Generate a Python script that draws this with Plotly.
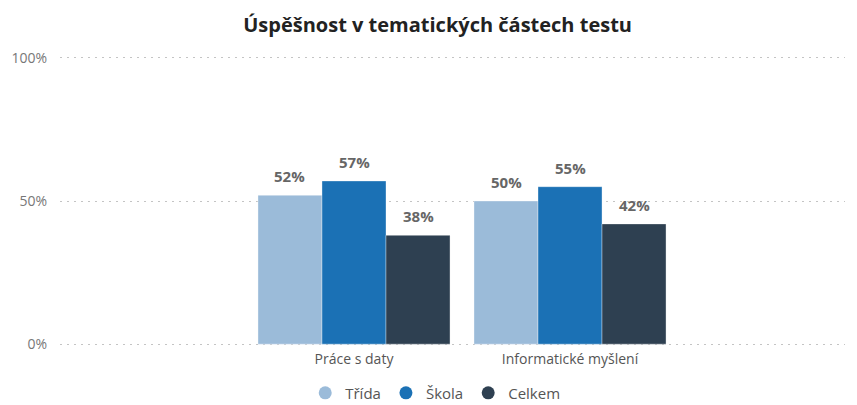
import plotly.graph_objects as go

categories = ["Práce s daty", "Informatické myšlení"]
series_names = ["Třída", "Škola", "Celkem"]
trida = [52, 50]
skola = [57, 55]
celkem = [38, 42]
y_ticks = [0, 50, 100]
y_tick_labels = ["0%", "50%", "100%"]

colors = {"Třída": "#9BBBD9", "Škola": "#1B71B5", "Celkem": "#2E4051"}
values = {"Třída": trida, "Škola": skola, "Celkem": celkem}

bar_w = 0.889 / 3
offsets = {"Třída": -bar_w, "Škola": 0, "Celkem": bar_w}

fig = go.Figure()
for name in series_names:
    fig.add_trace(go.Bar(
        x=categories, y=values[name], name=name,
        marker=dict(color=colors[name], line=dict(color="rgba(255,255,255,0.35)", width=1)),
        showlegend=False,
    ))
    # legend entry with a round marker
    fig.add_trace(go.Scatter(
        x=[None], y=[None], mode="markers", name=name,
        marker=dict(color=colors[name], size=13, symbol="circle"),
    ))
    # data labels above bars
    for i, v in enumerate(values[name]):
        fig.add_annotation(x=i + offsets[name], y=v, text=f"<b>{v}%</b>", showarrow=False,
                           yanchor="bottom", yshift=7,
                           font=dict(family="Open Sans", size=15, color="#666666"))

# page body has an 8px margin, so the figure is a bit smaller than the window
fig.update_layout(
    width=849, height=397,
    margin=dict(l=52, r=12, t=47, b=58),
    paper_bgcolor="white", plot_bgcolor="white",
    font=dict(family="Open Sans", color="#666666"),
    title=dict(text="<b>Úspěšnost v tematických částech testu</b>",
               x=0.506, xanchor="center", yref="container", y=0.957, yanchor="middle",
               font=dict(family="Open Sans", size=20, color="#222222")),
    barmode="group", bargap=0.111, bargroupgap=0,
    legend=dict(orientation="h", x=0.478, xanchor="center",
                yref="container", y=0.03, yanchor="middle",
                font=dict(size=15, color="#555555"), itemwidth=30,
                traceorder="normal"),
    showlegend=True,
)
fig.update_xaxes(range=[-1.361, 2.273], showgrid=False, showline=False, zeroline=False,
                 ticks="", ticklabelstandoff=2, automargin=False,
                 tickfont=dict(size=14, color="#555555"))
fig.update_yaxes(range=[-1, 101], tickvals=y_ticks, ticktext=y_tick_labels,
                 showgrid=True, gridcolor="#C4C4C4", griddash="2px,5px", gridwidth=1,
                 zeroline=False, showline=False, ticks="", ticklabelstandoff=12,
                 automargin=False, tickfont=dict(size=14, color="#777777"))

fig.write_html("out.html")
